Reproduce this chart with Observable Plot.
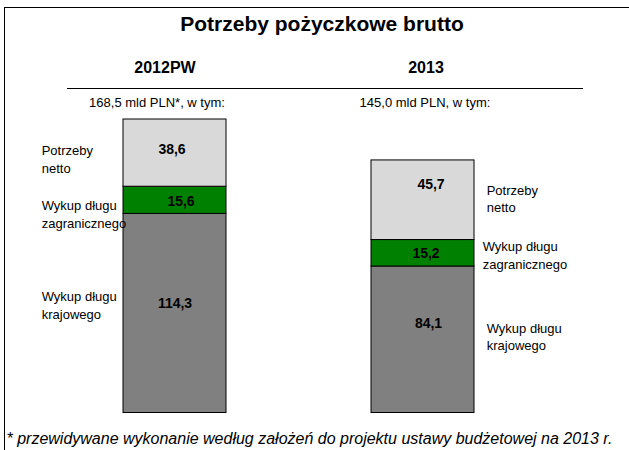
<!DOCTYPE html>
<html><head><meta charset="utf-8">
<script src="https://cdn.jsdelivr.net/npm/d3@7"></script>
<script src="https://cdn.jsdelivr.net/npm/@observablehq/plot@0.6"></script>
<style>
html,body{margin:0;padding:0;background:#fff;}
#wrap{position:relative;width:629px;height:450px;overflow:hidden;font-family:"Liberation Sans",Arial,sans-serif;}
#wrap svg{position:absolute;left:0;top:0;}
.border{position:absolute;left:4px;top:7px;width:700px;height:600px;border-left:1px solid #000;border-top:1px solid #000;}
.hrule{position:absolute;left:67px;top:88px;width:516px;height:0;border-top:1.3px solid #000;}
</style></head><body>
<div id="wrap"></div>
<script>
// ---- data ----
const years = ["2012PW", "2013"];
const segments = ["Wykup długu krajowego", "Wykup długu zagranicznego", "Potrzeby netto"];
const segmentLabels = ["Wykup długu\nkrajowego", "Wykup długu\nzagranicznego", "Potrzeby\nnetto"];
const values2012 = [114.3, 15.6, 38.6];
const values2013 = [84.1, 15.2, 45.7];
const totals = [168.5, 145.0];
const totalNotes = ["*", ""];
const title = "Potrzeby pożyczkowe brutto";
const footnote = "* przewidywane wykonanie według założeń do projektu ustawy budżetowej na 2013 r.";

// ---- styles ----
const segmentColors = ["#808080", "#008000", "#d9d9d9"];
const font = "'Liberation Sans', Arial, sans-serif";

const fmt = v => v.toFixed(1).replace(".", ",");
const series = [values2012, values2013];
const rows = [];
years.forEach((year, i) => {
  let base = 0;
  segments.forEach((seg, j) => {
    const v = series[i][j];
    rows.push({year, segment: seg, label: segmentLabels[j], value: v, mid: base + v / 2, i, j});
    base += v;
  });
});
const subtitles = years.map((y, i) => ({year: y, text: `${fmt(totals[i])} mld PLN${totalNotes[i]}, w tym:`}));

// label nudges in px (style only)
const valueNudge = [[[0, -10], [6, 1], [-3, -3.5]], [[5.5, -16], [3, 0], [8, -16]]];
const sideNudge = [[[-133.3, -9], [-133.3, 13], [-133.3, 5]], [[63.7, -4], [59.7, 1], [63.7, -2.5]]];
const headerDx = [-10, 3];
const subDx = [-18, 2];

const marks = [
  Plot.barY(rows, {x: "year", y: "value", fill: "segment", stroke: "#000", strokeWidth: 1}),
  ...rows.map(r => Plot.text([r], {
    x: "year", y: "mid", text: d => fmt(d.value),
    dx: valueNudge[r.i][r.j][0], dy: valueNudge[r.i][r.j][1],
    fontWeight: "bold", fontSize: 14, fill: "#000"
  })),
  ...rows.map(r => Plot.text([r], {
    x: "year", y: "mid", text: "label", textAnchor: "start", lineHeight: 1.35,
    dx: sideNudge[r.i][r.j][0], dy: sideNudge[r.i][r.j][1],
    fontSize: 13, fill: "#000"
  })),
  ...years.map((y, i) => Plot.text([y], {
    x: d => d, text: d => d, frameAnchor: "top", lineAnchor: "bottom",
    dx: headerDx[i], dy: -47, fontWeight: "bold", fontSize: 16, fill: "#000"
  })),
  ...subtitles.map((s, i) => Plot.text([s], {
    x: "year", text: "text", frameAnchor: "top", lineAnchor: "bottom",
    dx: subDx[i], dy: -12.3, fontSize: 13, fill: "#000"
  })),
  Plot.text([title], {frameAnchor: "top-left", text: d => d, textAnchor: "middle", lineAnchor: "bottom",
    dx: 198.25, dy: -89, fontSize: 21, fontWeight: "bold", fill: "#000"}),
  Plot.text([footnote], {frameAnchor: "bottom-left", text: d => d, textAnchor: "start", lineAnchor: "bottom",
    dx: -117.25, dy: 30.5, fontSize: 16, fontStyle: "italic", fill: "#000"})
];

const chart = Plot.plot({
  width: 629, height: 450,
  marginTop: 119, marginBottom: 37.5, marginLeft: 123.25, marginRight: 154.25,
  x: {type: "band", domain: years, paddingInner: 0.583, paddingOuter: 0, axis: null},
  y: {domain: [0, d3.max(totals)], axis: null},
  color: {domain: segments, range: segmentColors},
  style: {fontFamily: font, background: "transparent", overflow: "visible"},
  marks
});
const wrap = document.getElementById("wrap");
wrap.appendChild(chart);
const border = document.createElement("div"); border.className = "border"; wrap.appendChild(border);
const hrule = document.createElement("div"); hrule.className = "hrule"; wrap.appendChild(hrule);
</script>
</body></html>
